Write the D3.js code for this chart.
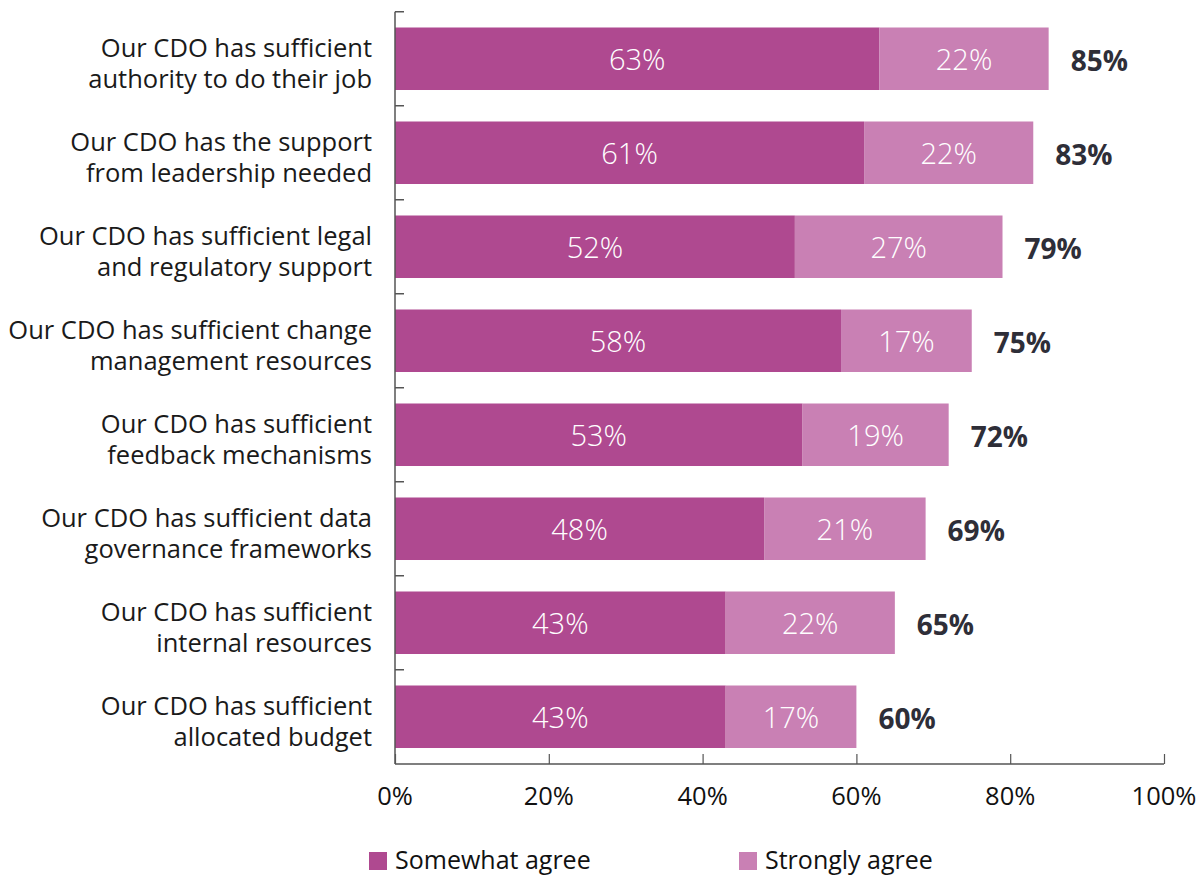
<!DOCTYPE html>
<html><head><meta charset="utf-8">
<script src="https://cdn.jsdelivr.net/npm/d3@7"></script>
<style>body{margin:0;background:#fff;} svg{display:block;}</style>
</head><body>
<svg id="c" width="1199" height="878"></svg>
<script>
const categories = [
  ["Our CDO has sufficient","authority to do their job"],
  ["Our CDO has the support","from leadership needed"],
  ["Our CDO has sufficient legal","and regulatory support"],
  ["Our CDO has sufficient change","management resources"],
  ["Our CDO has sufficient","feedback mechanisms"],
  ["Our CDO has sufficient data","governance frameworks"],
  ["Our CDO has sufficient","internal resources"],
  ["Our CDO has sufficient","allocated budget"]
];
const somewhat = [63, 61, 52, 58, 53, 48, 43, 43];
const strongly = [22, 22, 27, 17, 19, 21, 22, 17];
const seriesNames = ["Somewhat agree", "Strongly agree"];
const xTicks = [0, 20, 40, 60, 80, 100];

const colors = ["#AF4990", "#C980B4"];
const font = "'Open Sans', sans-serif";
const svg = d3.select("#c");
const x = d3.scaleLinear().domain([0,100]).range([395,1164]);
const y = d3.scaleBand().domain(d3.range(categories.length)).range([11.75,763.75]).paddingInner(0.335).paddingOuter(0.1675);

const g = svg.append("g");
categories.forEach((c,i)=>{
  const yy = y(i), h = y.bandwidth();
  const a = somewhat[i], b = strongly[i];
  g.append("rect").attr("x",x(0)).attr("y",yy).attr("width",x(a)-x(0)).attr("height",h).attr("fill",colors[0]);
  g.append("rect").attr("x",x(a)).attr("y",yy).attr("width",x(a+b)-x(a)).attr("height",h).attr("fill",colors[1]);
  g.append("text").attr("x",(x(0)+x(a))/2).attr("y",yy+h/2+1).attr("dy","0.35em").attr("text-anchor","middle")
    .attr("fill","#fff").style("font-family",font).style("font-weight","300").style("font-size","29px").text(a+"%");
  g.append("text").attr("x",(x(a)+x(a+b))/2).attr("y",yy+h/2+1).attr("dy","0.35em").attr("text-anchor","middle")
    .attr("fill","#fff").style("font-family",font).style("font-weight","300").style("font-size","29px").text(b+"%");
  g.append("text").attr("x",x(a+b)+22).attr("y",yy+h/2+2).attr("dy","0.35em").attr("text-anchor","start")
    .attr("fill","#2E2E38").style("font-family",font).style("font-weight","700").style("font-size","28px").text((a+b)+"%");
  const t = g.append("text").attr("text-anchor","end").attr("fill","#1a1a1a").style("font-family",font).style("font-size","25.5px");
  c.forEach((line,k)=>{
    t.append("tspan").attr("x",372).attr("y",yy+h/2 + (k===0?-11:20)).attr("dy","0.35em").text(line);
  });
});

const axisColor = "#555";
g.append("line").attr("x1",395).attr("x2",395).attr("y1",11.75).attr("y2",764).attr("stroke",axisColor).attr("stroke-width",1.5);
categories.forEach((c,i)=>{
  const yy = y(i) - y.step()*y.paddingInner()/2;
  g.append("line").attr("x1",395).attr("x2",404).attr("y1",yy).attr("y2",yy).attr("stroke",axisColor).attr("stroke-width",1.5);
});
const xa = g.append("g").attr("transform","translate(0,764)")
  .call(d3.axisTop(x).tickValues(xTicks).tickSize(10).tickFormat(""));
xa.select(".domain").attr("stroke",axisColor).attr("stroke-width",1.5).attr("d","M395,0H1164");
xa.selectAll(".tick line").attr("stroke",axisColor).attr("stroke-width",1.2);
g.selectAll(".xl").data(xTicks).enter().append("text").attr("x",d=>x(d)).attr("y",796).attr("dy","0.35em")
  .attr("text-anchor","middle").attr("fill","#111").style("font-family",font).style("font-size","25.5px").text(d=>d+"%");

const legX = [369, 739];
seriesNames.forEach((n,i)=>{
  g.append("rect").attr("x",legX[i]).attr("y",852).attr("width",18).attr("height",18).attr("fill",colors[i]);
  g.append("text").attr("x",legX[i]+26).attr("y",860).attr("dy","0.35em").attr("fill","#111")
    .style("font-family",font).style("font-size","25px").text(n);
});
</script>
</body></html>
